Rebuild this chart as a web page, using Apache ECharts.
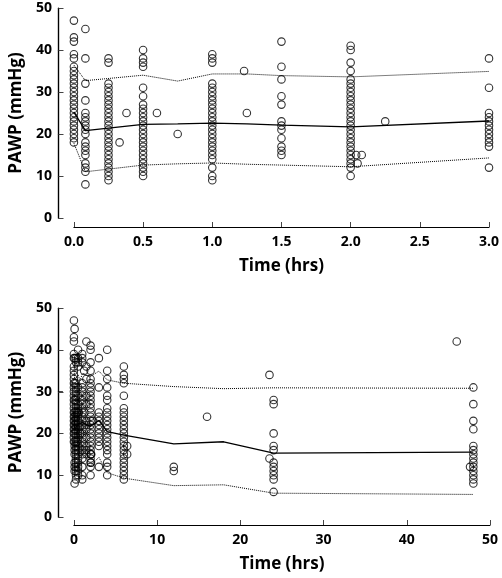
<!DOCTYPE html>
<html>
<head>
<meta charset="utf-8">
<script src="https://cdn.jsdelivr.net/npm/echarts@6/dist/echarts.min.js"></script>
<style>html,body{margin:0;padding:0;background:#fff;}#c{width:502px;height:578px;}</style>
</head>
<body>
<div id="c"></div>
<script>
// ---- Observed PAWP (mmHg) by nominal sampling time (hrs) ----
const obsTimesShort = [0, 0.083, 0.25, 0.5, 1.0, 1.5, 2.0, 3.0];
const obsValuesShort = [
  [47, 43, 42, 39, 38, 36, 35, 34, 33, 32, 31, 30, 29, 28, 27, 26, 25, 24, 23, 22, 21, 20, 19, 18],
  [45, 38, 32, 28, 25, 24, 23, 22, 21, 20, 18, 17, 16, 15, 13, 12, 11, 8],
  [38, 37, 32, 31, 30, 29, 28, 27, 26, 25, 24, 23, 22, 21, 20, 19, 18, 17, 16, 15, 14, 13, 12, 11, 10, 9],
  [40, 38, 37, 36, 31, 29, 27, 26, 25, 24, 23, 22, 21, 20, 19, 18, 17, 16, 15, 14, 13, 12, 11, 10],
  [39, 38, 37, 32, 31, 30, 29, 28, 27, 26, 25, 24, 23, 22, 21, 20, 19, 18, 17, 16, 15, 14, 12, 10, 9],
  [42, 36, 33, 29, 27, 23, 22, 21, 19, 17, 16, 15],
  [41, 40, 37, 35, 33, 32, 31, 30, 29, 28, 27, 26, 25, 24, 23, 22, 21, 20, 19, 18, 17, 16, 15, 14, 13, 12, 10],
  [38, 31, 25, 24, 23, 22, 21, 20, 19, 18, 17, 12]
];
// off-nominal samples (time, value)
const extraTimesShort = [0.33, 0.38, 0.6, 0.75, 1.23, 1.25, 2.04, 2.08, 2.05, 2.25];
const extraValuesShort = [18, 25, 25, 20, 35, 25, 15, 15, 13, 23];

const obsTimesLong = [4, 6, 12, 24, 48];
const obsValuesLong = [
  [40, 35, 33, 31, 29, 28, 26, 25, 24, 23, 22, 21, 20, 19, 18, 17, 16, 15, 13, 12, 10],
  [36, 34, 33, 32, 29, 26, 25, 24, 23, 22, 21, 20, 19, 18, 17, 16, 15, 14, 13, 12, 11, 10, 9],
  [12, 11],
  [28, 27, 20, 17, 16, 13, 12, 11, 10, 9, 6],
  [31, 27, 23, 21, 17, 16, 15, 14, 13, 12, 11, 10, 9, 8]
];
const extraTimesLong = [6.4, 6.4, 16, 23.5, 23.5, 46, 47.6];
const extraValuesLong = [17, 15, 24, 34, 14, 42, 12];

// ---- Model prediction lines (median and 90% interval) ----
const lineTimesShort = [0, 0.083, 0.5, 0.75, 1, 1.25, 1.5, 2, 3];
const medianShort = [25.2, 20.8, 22.3, 22.4, 22.6, 22.4, 22.1, 21.7, 23.1];
const upperShort  = [36.4, 32.7, 34.0, 32.6, 34.3, 34.3, 33.9, 33.6, 34.9];
const lowerShort  = [17.8, 11.0, 12.6, 12.9, 13.1, 12.8, 12.6, 12.2, 14.3];

const lineTimesLong = [4, 6, 12, 18, 24, 48];
const medianLong = [20.4, 19.6, 17.5, 18.0, 15.3, 15.5];
const upperLong  = [32.8, 32.0, 31.2, 30.7, 30.9, 30.8];
const lowerLong  = [10.6, 9.3, 7.5, 7.7, 5.7, 5.4];

const yTicks = [0, 10, 20, 30, 40, 50];

// ---- build ----
function flatten(times, values, exT, exV) {
  const out = [];
  times.forEach((t, i) => values[i].forEach(v => out.push([t, v])));
  exT.forEach((t, i) => out.push([t, exV[i]]));
  return out;
}
const pairs = (ts, vs) => ts.map((t, i) => [t, vs[i]]);

const shortPts = flatten(obsTimesShort, obsValuesShort, extraTimesShort, extraValuesShort);
const longPts = shortPts.concat(flatten(obsTimesLong, obsValuesLong, extraTimesLong, extraValuesLong));

const FONT = 'Open Sans';
const labelStyle = {color: '#000', fontFamily: FONT, fontWeight: 'bold', fontSize: 14};
const nameStyle = {color: '#000', fontFamily: FONT, fontWeight: 'bold', fontSize: 17};
const Y_OFFSET = 16;

function yAx(gi) {
  return {
    gridIndex: gi, type: 'value', min: yTicks[0], max: yTicks[yTicks.length - 1], interval: 10,
    offset: Y_OFFSET,
    name: 'PAWP (mmHg)', nameLocation: 'middle', nameGap: 29, nameTextStyle: nameStyle,
    axisLine: {show: true, onZero: false, lineStyle: {color: '#000', width: 1.2}},
    axisTick: {show: true, inside: true, length: 5, lineStyle: {color: '#444', width: 1}},
    axisLabel: Object.assign({margin: 6}, labelStyle),
    splitLine: {show: false}
  };
}
function xAx(gi, max, interval, off, fmt) {
  return {
    gridIndex: gi, type: 'value', min: 0, max: max, interval: interval,
    offset: off,
    name: 'Time (hrs)', nameLocation: 'middle', nameGap: 31, nameTextStyle: nameStyle,
    axisLine: {show: true, onZero: false, lineStyle: {color: '#000', width: 1.2}},
    axisTick: {show: true, inside: true, length: 5, lineStyle: {color: '#444', width: 1}},
    axisLabel: Object.assign({margin: 8, formatter: fmt}, labelStyle),
    splitLine: {show: false}
  };
}
const scatterStyle = {color: 'rgba(0,0,0,0)', borderColor: '#000', borderWidth: 1.1};
function scatter(gi, data) {
  return {type: 'scatter', xAxisIndex: gi, yAxisIndex: gi, data: data, symbol: 'circle',
    symbolSize: 7.5, itemStyle: scatterStyle, clip: false, silent: true, z: 3};
}
function line(gi, data, dotted) {
  return {type: 'line', xAxisIndex: gi, yAxisIndex: gi, data: data, showSymbol: false,
    symbol: 'none', silent: true, z: 2,
    lineStyle: {color: '#000', width: dotted ? 1 : 1.3, type: dotted ? 'dotted' : 'solid'}};
}

const chart = echarts.init(document.getElementById('c'), null, {renderer: 'canvas'});
chart.setOption({
  animation: false,
  backgroundColor: '#fff',
  grid: [
    {left: 69, top: 8, width: 421, height: 210},
    {left: 69, top: 308, width: 421, height: 209}
  ],
  xAxis: [
    xAx(0, 3, 0.5, 9, v => v.toFixed(1)),
    xAx(1, 50, 10, 8, v => String(v))
  ],
  yAxis: [yAx(0), yAx(1)],
  series: [
    line(0, pairs(lineTimesShort, upperShort), true),
    line(0, pairs(lineTimesShort, medianShort), false),
    line(0, pairs(lineTimesShort, lowerShort), true),
    scatter(0, shortPts),
    line(1, pairs(lineTimesShort.concat(lineTimesLong), upperShort.concat(upperLong)), true),
    line(1, pairs(lineTimesShort.concat(lineTimesLong), medianShort.concat(medianLong)), false),
    line(1, pairs(lineTimesShort.concat(lineTimesLong), lowerShort.concat(lowerLong)), true),
    scatter(1, longPts)
  ]
});

// Reinforce the offset y-axis lines and inward ticks, positioned from the axes' own scales.
const extras = [];
[0, 1].forEach(gi => {
  const finder = {xAxisIndex: gi, yAxisIndex: gi};
  const pTop = chart.convertToPixel(finder, [0, yTicks[yTicks.length - 1]]);
  const pBot = chart.convertToPixel(finder, [0, yTicks[0]]);
  const ax = Math.round(pTop[0] - Y_OFFSET) + 0.5;
  extras.push({type: 'line', silent: true, z: 10,
    shape: {x1: ax, y1: pTop[1], x2: ax, y2: pBot[1]},
    style: {stroke: '#000', lineWidth: 1.2}});
  yTicks.forEach(v => {
    const p = chart.convertToPixel(finder, [0, v]);
    const ty = Math.round(p[1]) + 0.5;
    extras.push({type: 'line', silent: true, z: 10,
      shape: {x1: ax, y1: ty, x2: ax + 5, y2: ty},
      style: {stroke: '#444', lineWidth: 1}});
  });
});
chart.setOption({graphic: extras});
</script>
</body>
</html>
